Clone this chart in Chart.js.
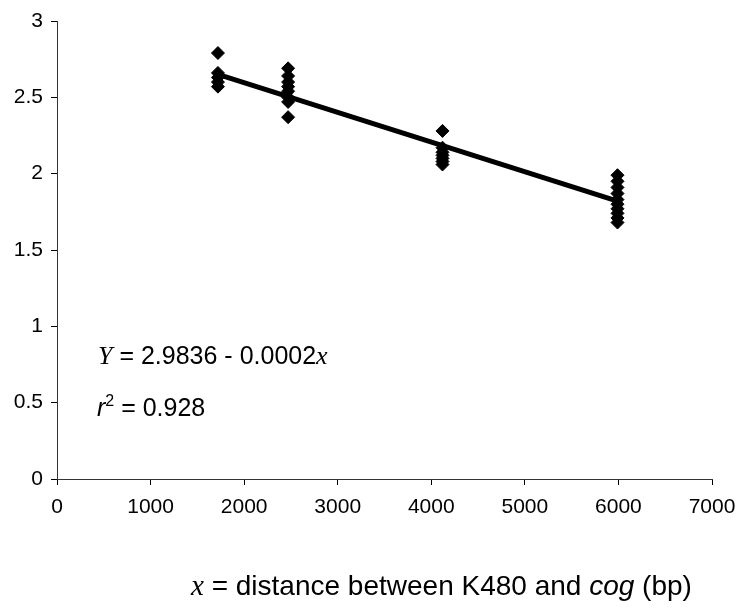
<!DOCTYPE html>
<html>
<head>
<meta charset="utf-8">
<script src="https://cdn.jsdelivr.net/npm/chart.js@4/dist/chart.umd.min.js"></script>
<style>
  html, body { margin: 0; padding: 0; background: #fff; }
  #wrap { width: 740px; height: 612px; }
</style>
</head>
<body>
<div id="wrap"><canvas id="chart" width="740" height="612"></canvas></div>
<script>
// distance (bp) of each group of measurements
const groupX = [1720, 2470, 4120, 5990];
const group1 = [2.79, 2.66, 2.63, 2.60, 2.57];
const group2 = [2.69, 2.64, 2.60, 2.57, 2.54, 2.50, 2.47, 2.37];
const group3 = [2.28, 2.17, 2.14, 2.12, 2.10, 2.08, 2.06];
const group4 = [1.99, 1.95, 1.91, 1.87, 1.83, 1.80, 1.77, 1.74, 1.71, 1.68];
const groupY = [group1, group2, group3, group4];

// fitted line end points
const fitX = [1720, 5990];
const fitY = [2.65, 1.82];

const xTicks = [0, 1000, 2000, 3000, 4000, 5000, 6000, 7000];
const yTicks = [0, 0.5, 1, 1.5, 2, 2.5, 3];

const points = [];
groupX.forEach((x, i) => {
    groupY[i].forEach(y => points.push({ x: x, y: y }));
});
const fitLine = fitX.map((x, i) => ({ x: x, y: fitY[i] }));

const sans = "Liberation Sans, Arial, sans-serif";
const serif = "Liberation Serif, Times New Roman, serif";

// draw a row of text pieces with their own fonts, starting at x
const drawRuns = (ctx, runs, x, y) => {
    ctx.save();
    ctx.fillStyle = "#000";
    ctx.textBaseline = "alphabetic";
    ctx.textAlign = "left";
    for (const r of runs) {
        ctx.font = r.font;
        ctx.fillText(r.text, x, y + (r.dy || 0));
        x += ctx.measureText(r.text).width;
    }
    ctx.restore();
};

const textPlugin = {
    id: "texts",
    afterDraw(chart) {
        const ctx = chart.ctx;
        drawRuns(ctx, [
            { text: "Y", font: "italic 26px " + serif },
            { text: " = 2.9836 - 0.0002", font: "25px " + sans },
            { text: "x", font: "italic 26px " + serif },
        ], 98, 364);
        drawRuns(ctx, [
            { text: "r", font: "italic 25px " + sans },
            { text: "2", font: "16px " + sans, dy: -10 },
            { text: " = 0.928", font: "25px " + sans },
        ], 97, 416);
        drawRuns(ctx, [
            { text: "x", font: "italic 29px " + serif },
            { text: " = distance between K480 and ", font: "28px " + sans },
            { text: "cog", font: "italic 28px " + sans },
            { text: " (bp)", font: "28px " + sans },
        ], 191, 595);
    }
};

new Chart(document.getElementById("chart"), {
    type: "scatter",
    plugins: [textPlugin],
    data: {
        datasets: [
            {
                data: points,
                pointStyle: "rectRot",
                pointRadius: 6.5,
                backgroundColor: "#000",
                borderColor: "#000",
                borderWidth: 1,
            },
            {
                data: fitLine,
                showLine: true,
                borderColor: "#000",
                borderWidth: 5,
                pointRadius: 0,
            },
        ],
    },
    options: {
        responsive: false,
        animation: false,
        layout: { padding: { top: 21, right: 28, left: 0, bottom: 0 } },
        plugins: {
            legend: { display: false },
            tooltip: { enabled: false },
        },
        scales: {
            x: {
                type: "linear",
                min: 0,
                max: 7000,
                afterBuildTicks: (s) => { s.ticks = xTicks.map(v => ({ value: v })); },
                afterFit: (s) => { s.height = 133; s.paddingRight = 0; s.paddingLeft = 0; },
                grid: { drawOnChartArea: false, tickLength: 6, color: "#000" },
                border: { color: "#333", width: 1 },
                ticks: {
                    color: "#000",
                    font: { family: sans, size: 21 },
                    padding: 10,
                    maxRotation: 0,
                    callback: (v) => String(v),
                },
            },
            y: {
                min: 0,
                max: 3,
                afterBuildTicks: (s) => { s.ticks = yTicks.map(v => ({ value: v })); },
                afterFit: (s) => { s.width = 57; s.paddingTop = 0; s.paddingBottom = 0; },
                grid: { drawOnChartArea: false, tickLength: 6, color: "#000" },
                border: { color: "#333", width: 1 },
                ticks: {
                    color: "#000",
                    font: { family: sans, size: 21 },
                    padding: 8,
                    callback: (v) => String(v),
                },
            },
        },
    },
});
</script>
</body>
</html>
